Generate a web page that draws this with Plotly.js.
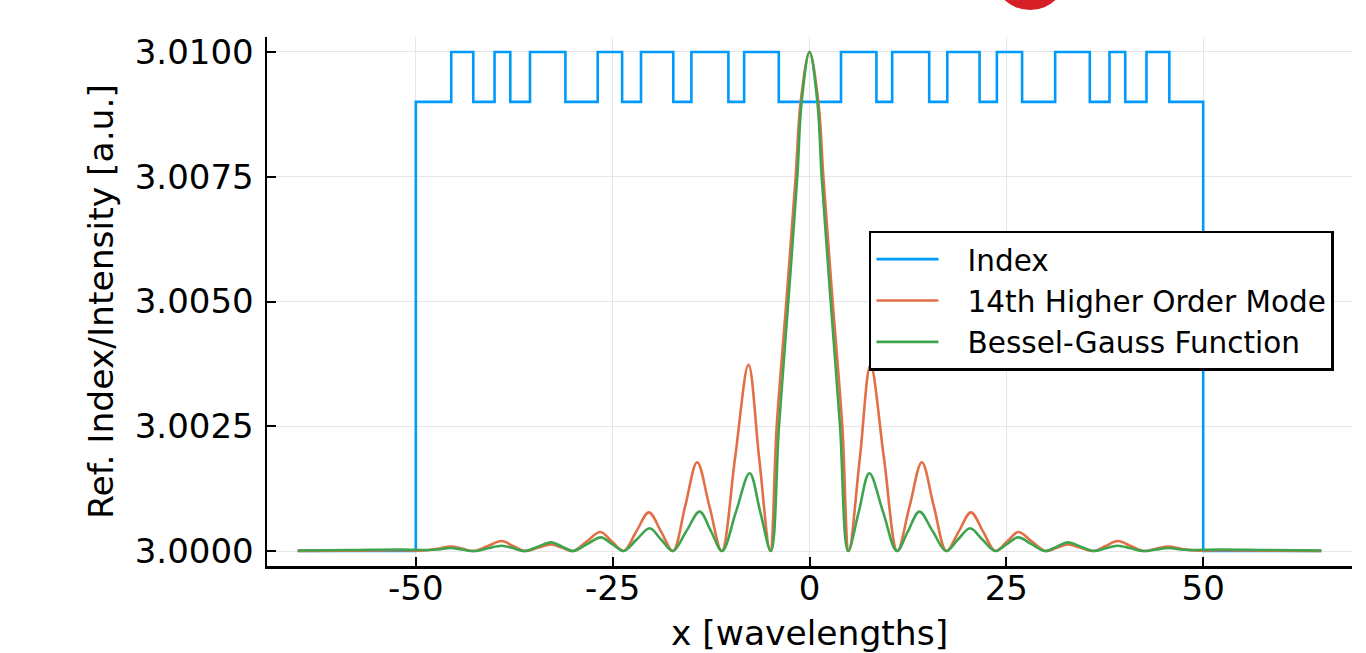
<!DOCTYPE html>
<html>
<head>
<meta charset="utf-8">
<script src="https://cdn.plot.ly/plotly-3.0.1.min.js"></script>
<style>
html, body { margin: 0; padding: 0; background: #ffffff; }
#chart { width: 1366px; height: 653px; }
</style>
</head>
<body>
<div id="chart"></div>
<script>
// ---- Data ----
const seriesNames = ["Index", "14th Higher Order Mode", "Bessel-Gauss Function"];

// Refractive index profile (step function, drawn with "hv" steps)
const indexX = [-65, -50, -45.5, -42.7, -40.0, -38.0, -35.5, -31.0, -26.9, -23.8, -21.4, -17.3, -15.0, -10.3, -8.3, -3.9,
                4.0, 8.5, 10.5, 15.2, 17.5, 21.6, 23.8, 27.0, 31.2, 35.6, 38.1, 40.1, 42.8, 45.7, 50.0, 65];
const indexY = [3.000, 3.009, 3.010, 3.009, 3.010, 3.009, 3.010, 3.009, 3.010, 3.009, 3.010, 3.009, 3.010, 3.009, 3.010, 3.009,
                3.010, 3.009, 3.010, 3.009, 3.010, 3.009, 3.010, 3.009, 3.010, 3.009, 3.010, 3.009, 3.010, 3.009, 3.000, 3.000];

// 14th higher order mode intensity (key points: zeros, half-heights, peaks)
const modeX = [-65, -60, -56, -52, -49.2, -47.3, -45.5, -44.1, -42.6, -40.85, -39.1, -37.65, -36.2, -34.5, -32.8, -31.4, -30.0,
               -28.3, -26.56, -25.1, -23.6, -22.0, -20.4, -18.85, -17.35, -15.8, -14.27, -12.7, -11.15, -9.45, -7.75, -6.4, -5.0,
               -4.17, -2.94, -1.76, -1.12, 0,
               1.12, 1.76, 2.94, 4.17,
               5.0, 6.4, 7.75, 9.45, 11.15, 12.7, 14.27, 15.8, 17.4, 18.95, 20.5, 22.05, 23.6, 25.1, 26.5, 28.25, 29.95,
               31.4, 32.8, 34.45, 36.1, 37.6, 39.15, 40.8, 42.4, 44.0, 45.6, 47.2, 48.9, 52, 56, 60, 65];
const modeY = [3.000003, 3.000006, 3.00001, 3.000015, 3.00001, 3.000045, 3.00009, 3.000045, 3.0, 3.0001, 3.0002, 3.0001, 3.0, 3.000065, 3.00013, 3.000065, 3.0,
               3.00019, 3.00038, 3.00019, 3.0, 3.00039, 3.000775, 3.00039, 3.0, 3.00089, 3.00178, 3.00089, 3.0, 3.00187, 3.00373, 3.00187, 3.0,
               3.0025, 3.0050, 3.0075, 3.0090, 3.0100,
               3.0090, 3.0075, 3.0050, 3.0025,
               3.0, 3.00187, 3.00373, 3.00187, 3.0, 3.00089, 3.00178, 3.00089, 3.0, 3.00039, 3.000775, 3.00039, 3.0, 3.00019, 3.00038, 3.00019, 3.0,
               3.000065, 3.00013, 3.000065, 3.0, 3.0001, 3.0002, 3.0001, 3.0, 3.000045, 3.00009, 3.000045, 3.00001, 3.000015, 3.00001, 3.000006, 3.000003];

// Bessel-Gauss function intensity
const besselX = [-65, -58, -52, -48.5, -47.1, -45.6, -44.1, -42.6, -40.85, -39.1, -37.6, -36.2, -34.5, -32.8, -31.4, -30.0,
                 -28.25, -26.5, -25.05, -23.6, -21.95, -20.3, -18.85, -17.35, -15.65, -13.95, -12.5, -11.1, -9.35, -7.6, -6.25, -4.9,
                 -3.88, -2.69, -1.55, -1.0, 0,
                 1.0, 1.55, 2.69, 3.88,
                 4.9, 6.25, 7.6, 9.35, 11.1, 12.5, 13.95, 15.65, 17.35, 18.85, 20.4, 21.95, 23.6, 25.05, 26.5, 28.2, 29.95,
                 31.4, 32.8, 34.45, 36.1, 37.6, 39.1, 40.8, 42.4, 44.0, 45.6, 47.1, 48.5, 52, 58, 65];
const besselY = [3.00001, 3.00002, 3.00003, 3.00002, 3.00003, 3.00006, 3.00003, 3.0, 3.000054, 3.000107, 3.000054, 3.0, 3.000087, 3.000173, 3.000087, 3.0,
                 3.000137, 3.000274, 3.000137, 3.0, 3.00023, 3.000455, 3.00023, 3.0, 3.000395, 3.00079, 3.000395, 3.0, 3.00078, 3.00156, 3.00078, 3.0,
                 3.0025, 3.0050, 3.0075, 3.0090, 3.0100,
                 3.0090, 3.0075, 3.0050, 3.0025,
                 3.0, 3.00078, 3.00156, 3.00078, 3.0, 3.000395, 3.00079, 3.000395, 3.0, 3.00023, 3.000455, 3.00023, 3.0, 3.000137, 3.000274, 3.000137, 3.0,
                 3.000087, 3.000173, 3.000087, 3.0, 3.000054, 3.000107, 3.000054, 3.0, 3.00003, 3.00006, 3.00003, 3.00002, 3.00003, 3.00002, 3.00001];

// Axis ticks
const xTickVals = [-50, -25, 0, 25, 50];
const xTickText = ["-50", "-25", "0", "25", "50"];
const yTickVals = [3.0000, 3.0025, 3.0050, 3.0075, 3.0100];
const yTickText = ["3.0000", "3.0025", "3.0050", "3.0075", "3.0100"];

// ---- Plot ----
const FONT = "DejaVu Sans, Liberation Sans, sans-serif";
const colors = ["#009AFA", "#E36F47", "#3EA44E"];
const legendPad = "\u2002\u00A0";

const traces = [
  { x: indexX, y: indexY, name: legendPad + seriesNames[0], type: "scatter", mode: "lines",
    line: { color: colors[0], width: 2.6, shape: "hv" } },
  { x: modeX, y: modeY, name: legendPad + seriesNames[1], type: "scatter", mode: "lines",
    line: { color: colors[1], width: 2.6, shape: "spline", smoothing: 1 } },
  { x: besselX, y: besselY, name: legendPad + seriesNames[2], type: "scatter", mode: "lines",
    line: { color: colors[2], width: 2.6, shape: "spline", smoothing: 1 } }
];

const layout = {
  width: 1366, height: 653,
  margin: { l: 267, r: 14, t: 37, b: 87, pad: 0 },
  paper_bgcolor: "#ffffff", plot_bgcolor: "#ffffff",
  font: { family: FONT, color: "#000000", size: 34 },
  showlegend: true,
  legend: {
    x: 0.5548, y: 0.6333, xanchor: "left", yanchor: "top",
    bgcolor: "#ffffff", bordercolor: "#000000", borderwidth: 2.5,
    font: { family: FONT, size: 29.5, color: "#000000" },
    itemwidth: 62
  },
  xaxis: {
    range: [-68.9, 68.9],
    tickvals: xTickVals, ticktext: xTickText,
    ticks: "inside", ticklen: 9, tickwidth: 2, tickcolor: "#000000",
    showline: true, linecolor: "#000000", linewidth: 2.5, mirror: false,
    showgrid: true, gridcolor: "#e6e6e6", gridwidth: 1,
    zeroline: false,
    tickfont: { family: FONT, size: 34, color: "#000000" },
    ticklabelstandoff: -9,
    title: { text: "x [wavelengths]", font: { family: FONT, size: 34.5, color: "#000000" }, standoff: 31 }
  },
  yaxis: {
    range: [2.9997, 3.0103],
    tickvals: yTickVals, ticktext: yTickText,
    ticks: "inside", ticklen: 9, tickwidth: 2, tickcolor: "#000000",
    showline: true, linecolor: "#000000", linewidth: 2.5, mirror: false,
    showgrid: true, gridcolor: "#e6e6e6", gridwidth: 1,
    zeroline: false,
    tickfont: { family: FONT, size: 34, color: "#000000" },
    ticklabelstandoff: 4,
    title: { text: "Ref. Index/Intensity [a.u.]", font: { family: FONT, size: 34.5, color: "#000000" }, standoff: 11 }
  },
  shapes: [
    { type: "circle", xref: "paper", yref: "paper", layer: "above",
      x0: 0.6687, x1: 0.7378, y0: 1.0510, y1: 1.1928,
      fillcolor: "#D71F27", line: { width: 0 } }
  ]
};

Plotly.newPlot("chart", traces, layout, { displayModeBar: false, staticPlot: true });
</script>
</body>
</html>
